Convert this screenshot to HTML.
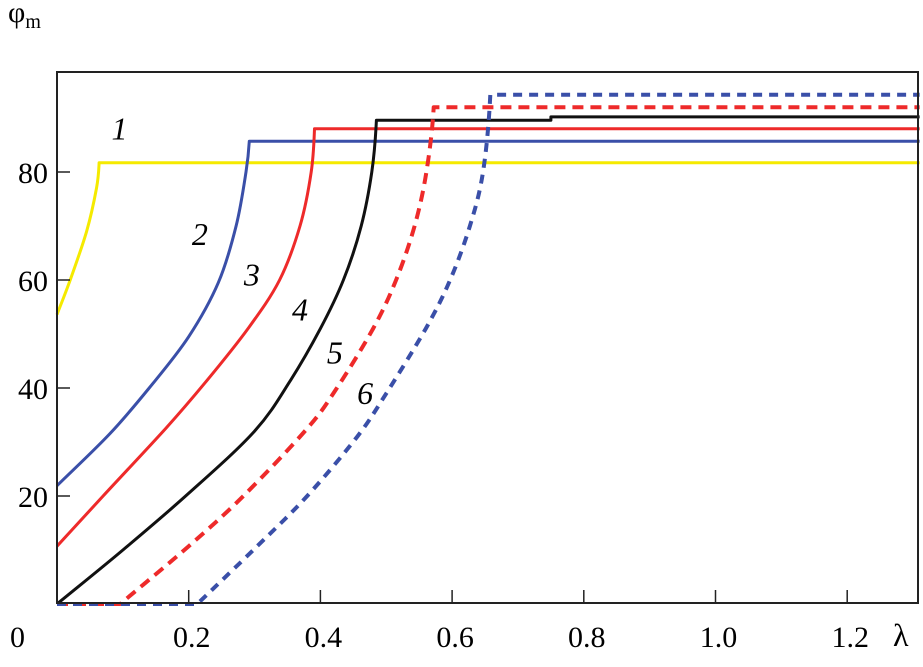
<!DOCTYPE html>
<html><head><meta charset="utf-8"><style>
html,body{margin:0;padding:0;background:#fff;}
svg text{font-family:"Liberation Serif","DejaVu Serif",serif;}
</style></head><body>
<svg id="chart" width="923" height="662" viewBox="0 0 923 662">
<g id="marks"></g>
<rect x="57" y="72" width="861" height="531" fill="none" stroke="#222" stroke-width="2"/>
<g id="axes"></g>
<text x="8" y="22" font-size="30">φ<tspan font-size="20" dy="6">m</tspan></text>
<text x="893" y="646" font-size="32">λ</text>
</svg>
<script>
const xTicks=[0.2,0.4,0.6,0.8,1.0,1.2];
const xTickLabels=["0.2","0.4","0.6","0.8","1.0","1.2"];
const yTicks=[20,40,60,80];
const yTickLabels=["20","40","60","80"];
// rising parts [lambda, phi]
const curve1=[[0,53.6],[0.02,60],[0.045,69],[0.06,77],[0.064,81.7]];
const curve2=[[0,21.9],[0.08,31.5],[0.14,40],[0.2,49.5],[0.245,59.5],[0.272,70],[0.287,80],[0.292,85.7]];
const curve3=[[0,10.7],[0.07,20],[0.165,32.5],[0.225,41],[0.29,51],[0.338,60],[0.369,70],[0.386,80],[0.391,88]];
const curve4=[[0,0],[0.1,10],[0.2,20.5],[0.3,32],[0.355,41.5],[0.4,51],[0.435,60],[0.462,70],[0.478,80],[0.485,89.6]];
const curve5=[[0.096,0],[0.2,10.7],[0.283,20],[0.38,32.5],[0.425,40],[0.48,51],[0.515,60],[0.543,70],[0.561,80],[0.572,92]];
const curve6=[[0.213,0],[0.304,10.7],[0.38,20],[0.456,31],[0.5,39],[0.56,51],[0.597,60],[0.627,70],[0.647,80],[0.658,94.3]];
const plateaus=[81.7,85.7,88,89.6,92,94.3];
const plateaus2=[81.7,85.7,88,90.2,92,94.3];
const curveLabels=["1","2","3","4","5","6"];
const labelPos=[[0.095,86],[0.217,66.5],[0.296,59],[0.369,52.5],[0.422,44.5],[0.468,37]];

const X=v=>57+v*658.5, Y=v=>604-v*5.4;
const NS="http://www.w3.org/2000/svg";
const marks=document.getElementById('marks'), axes=document.getElementById('axes');
function crPath(pts){
  const P=pts.map(p=>[X(p[0]),Y(p[1])]);
  const n=P.length;
  const ext=[[2*P[0][0]-P[1][0],2*P[0][1]-P[1][1]],...P,[P[n-1][0],2*P[n-1][1]-P[n-2][1]]];
  let d="";
  for(let i=1;i<ext.length-2;i++){
    const p0=ext[i-1],p1=ext[i],p2=ext[i+1],p3=ext[i+2];
    const c1=[p1[0]+(p2[0]-p0[0])/6,p1[1]+(p2[1]-p0[1])/6];
    const c2=[p2[0]-(p3[0]-p1[0])/6,p2[1]-(p3[1]-p1[1])/6];
    d+=" C"+c1.map(v=>v.toFixed(1)).join(",")+" "+c2.map(v=>v.toFixed(1)).join(",")+" "+p2.map(v=>v.toFixed(1)).join(",");
  }
  return d;
}
const series=[[curve1,"#f5ea00",null,"curve-1"],[curve2,"#3a4fa8",null,"curve-2"],[curve3,"#ee2a2a",null,"curve-3"],[curve4,"#111",null,"curve-4"],[curve5,"#ee2a2a","11 7","curve-5"],[curve6,"#3a4fa8","9 7","curve-6"]];
series.forEach((s,i)=>{
  const r=s[0];
  let d="M"+X(0).toFixed(1)+","+Y(r[0][0]>0?0:r[0][1]).toFixed(1);
  if(r[0][0]>0)d+=" L"+X(r[0][0]).toFixed(1)+","+Y(r[0][1]).toFixed(1);
  d+=crPath(r);
  d+=" L"+X(0.75).toFixed(1)+","+Y(plateaus[i]).toFixed(1);
  d+=" L"+X(0.75).toFixed(1)+","+Y(plateaus2[i]).toFixed(1);
  d+=" L"+X(1.31).toFixed(1)+","+Y(plateaus2[i]).toFixed(1);
  const p=document.createElementNS(NS,"path");
  p.setAttribute("d",d);p.setAttribute("fill","none");p.setAttribute("stroke",s[1]);
  p.setAttribute("stroke-width",s[2]?"4":"3");p.setAttribute("stroke-linejoin","round");
  if(s[2])p.setAttribute("stroke-dasharray",s[2]);
  
  
  marks.appendChild(p);
});
curveLabels.forEach((t,i)=>{
  const e=document.createElementNS(NS,"text");
  e.setAttribute("x",X(labelPos[i][0]));e.setAttribute("y",Y(labelPos[i][1]));
  e.setAttribute("font-size","32");e.setAttribute("font-style","italic");e.setAttribute("text-anchor","middle");
  e.textContent=t;
  
  
  marks.appendChild(e);
});
xTicks.forEach((v,i)=>{
  const l=document.createElementNS(NS,"line");
  l.setAttribute("x1",X(v));l.setAttribute("x2",X(v));l.setAttribute("y1",603);l.setAttribute("y2",590);
  l.setAttribute("stroke","#222");l.setAttribute("stroke-width","1.5");
  
  
  axes.appendChild(l);
  const t=document.createElementNS(NS,"text");
  t.setAttribute("x",X(v)+3);t.setAttribute("y",647);t.setAttribute("font-size","30");t.setAttribute("text-anchor","middle");
  t.textContent=xTickLabels[i];
  
  
  axes.appendChild(t);
});
const z=document.createElementNS(NS,"text");
z.setAttribute("x",10);z.setAttribute("y",647);z.setAttribute("font-size","30");z.textContent="0";


axes.appendChild(z);
yTicks.forEach((v,i)=>{
  const l=document.createElementNS(NS,"line");
  l.setAttribute("x1",57);l.setAttribute("x2",70);l.setAttribute("y1",Y(v));l.setAttribute("y2",Y(v));
  l.setAttribute("stroke","#222");l.setAttribute("stroke-width","1.5");
  
  
  axes.appendChild(l);
  const t=document.createElementNS(NS,"text");
  t.setAttribute("x",48);t.setAttribute("y",Y(v)+11);t.setAttribute("font-size","30");t.setAttribute("text-anchor","end");
  t.textContent=yTickLabels[i];
  
  
  axes.appendChild(t);
});
</script>
</body></html>
